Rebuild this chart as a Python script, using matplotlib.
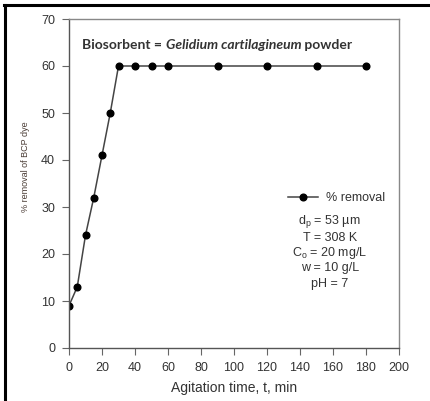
import matplotlib.pyplot as plt
from matplotlib.lines import Line2D

# agitation time (min) and % removal of BCP dye
t_min = [0, 5, 10, 15, 20, 25, 30, 40, 50, 60, 90, 120, 150, 180]
removal = [9, 13, 24, 32, 41, 50, 60, 60, 60, 60, 60, 60, 60, 60]

x_ticks = [0, 20, 40, 60, 80, 100, 120, 140, 160, 180, 200]
y_ticks = [0, 10, 20, 30, 40, 50, 60, 70]

conditions = ["d$_\\mathregular{p}$ = 53 \u00b5m", "T = 308 K",
              "C$_\\mathregular{o}$ = 20 mg/L", "w = 10 g/L", "pH = 7"]

plt.rcParams['font.family'] = ['Liberation Sans', 'DejaVu Sans']
plt.rcParams['mathtext.fontset'] = 'custom'
plt.rcParams['mathtext.rm'] = 'Liberation Sans'
txt = '#333333'

fig = plt.figure(figsize=(4.30, 4.01), dpi=100)
W, H = 430, 401
ax = fig.add_axes([69 / W, 1 - 348 / H, 330 / W, 329 / H])

ax.plot(t_min, removal, color='#444444', lw=1.1, marker='o', ms=4.8,
        mfc='black', mec='black', label='% removal')

ax.set_xlim(0, 200)
ax.set_ylim(0, 70)
ax.set_xticks(x_ticks)
ax.set_yticks(y_ticks)
ax.tick_params(direction='out', length=5, width=0.8, color='#666666',
               labelsize=9, labelcolor=txt, pad=5)

for s in ['left', 'bottom']:
    ax.spines[s].set_color('#555555')
    ax.spines[s].set_linewidth(1.0)
for s in ['top', 'right']:
    ax.spines[s].set_color('#888888')
    ax.spines[s].set_linewidth(1.0)

ax.set_xlabel('Agitation time, t, min', fontsize=10, color=txt, labelpad=5)
ax.set_ylabel('% removal of BCP dye', fontsize=6.5, color='#4a3c35')
ax.yaxis.set_label_coords(-0.118, 0.55)

# heading split into plain / italic / plain pieces
t1 = ax.text(0.04, 0.92, 'Biosorbent = ', transform=ax.transAxes, fontsize=10,
             fontweight='bold', color=txt, family='Lato', va='center')
t2 = ax.annotate('Gelidium cartilagineum', xy=(1, 0), xycoords=t1, va='bottom',
                 fontsize=10, fontweight='bold', style='italic', color=txt, family='Lato')
ax.annotate(' powder', xy=(1, 0), xycoords=t2, va='bottom',
            fontsize=10, fontweight='bold', color=txt, family='Lato')

leg = ax.legend(loc='center left', bbox_to_anchor=(0.645, 0.456), frameon=False,
                fontsize=9, handlelength=2.4, handletextpad=0.6, borderpad=0,
                labelcolor=txt)

for i, line in enumerate(conditions):
    ax.text(0.79, (348 - 222 - 15.5 * i) / 329, line, transform=ax.transAxes,
            fontsize=9, color=txt, ha='center', va='center')

# heavy frame edges along the top and left of the figure
fig.add_artist(Line2D([4 / W, 1], [1 - 5 / H, 1 - 5 / H], color='black', lw=2.2))
fig.add_artist(Line2D([4.5 / W, 4.5 / W], [0, 1 - 5 / H], color='black', lw=2.2))

fig.savefig('out.png', dpi=100)
